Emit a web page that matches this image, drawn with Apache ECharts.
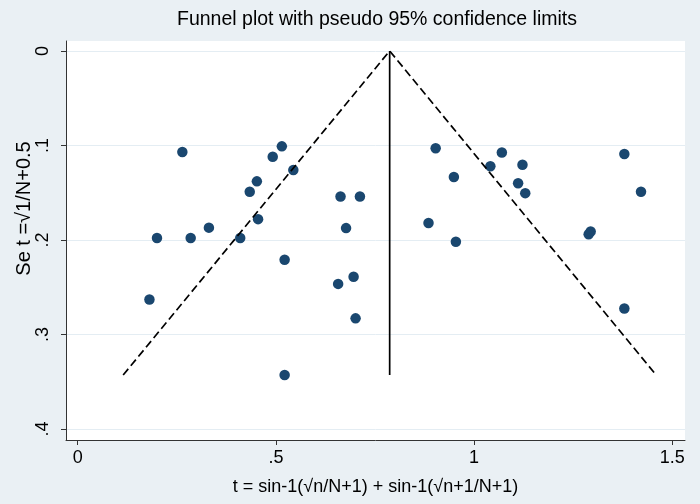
<!DOCTYPE html>
<html>
<head>
<meta charset="utf-8">
<script src="https://cdn.jsdelivr.net/npm/echarts@6/dist/echarts.min.js"></script>
<style>
html,body{margin:0;padding:0;background:#EAF0F4;}
#chart{width:700px;height:504px;}
</style>
</head>
<body>
<div id="chart"></div>
<script>
// Study effect sizes (t) and their standard errors (Se t)
const effectT = [0.264, 0.515, 0.492, 0.544, 0.452, 0.434, 0.455, 0.331, 0.200, 0.285, 0.410, 0.181, 0.522, 0.522,
                 0.663, 0.712, 0.677, 0.696, 0.657, 0.701,
                 0.903, 1.070, 1.041, 1.122, 0.949, 1.111, 1.129, 1.379, 1.421, 0.885, 0.954, 1.289, 1.294, 1.379];
const seT = [0.107, 0.101, 0.112, 0.126, 0.138, 0.149, 0.178, 0.187, 0.198, 0.198, 0.198, 0.263, 0.221, 0.343,
             0.154, 0.154, 0.1875, 0.239, 0.2465, 0.283,
             0.103, 0.1075, 0.122, 0.1205, 0.1335, 0.140, 0.1505, 0.109, 0.149, 0.182, 0.202, 0.194, 0.191, 0.2725];
const pooledEstimate = 0.787;
const maxSe = 0.343;
const zValue = 1.96;
const xTicks = [0, 0.5, 1, 1.5];
const yTicks = [0, 0.1, 0.2, 0.3, 0.4];

const points = effectT.map((t, i) => [t, seT[i]]);
const funnel = [
  [pooledEstimate - zValue * maxSe, maxSe],
  [pooledEstimate, 0],
  [pooledEstimate + zValue * maxSe, maxSe]
];
const centerLine = [[pooledEstimate, 0], [pooledEstimate, maxSe]];

function fmt(v) {
  if (v === 0) return '0';
  return String(+v.toFixed(2)).replace(/^0\./, '.');
}

const font = 'Liberation Sans, Arial, sans-serif';
const chart = echarts.init(document.getElementById('chart'), null, {renderer: 'canvas'});
chart.setOption({
  backgroundColor: '#EAF0F4',
  animation: false,
  title: {
    text: 'Funnel plot with pseudo 95% confidence limits',
    left: 372, top: 5, textAlign: 'center',
    textStyle: {fontFamily: font, fontSize: 19.5, fontWeight: 'normal', color: '#000'}
  },
  grid: {
    left: 66, right: 15, top: 41, bottom: 64,
    show: true, backgroundColor: '#FFFFFF', borderWidth: 0
  },
  xAxis: {
    type: 'value', min: -0.0295, max: 1.532,
    name: 't = sin-1(√n/N+1) + sin-1(√n+1/N+1)',
    nameLocation: 'middle', nameGap: 38, nameMoveOverlap: false,
    nameTextStyle: {fontFamily: font, fontSize: 18, color: '#000'},
    axisLine: {show: true, onZero: false, lineStyle: {color: '#333', width: 1}},
    axisTick: {show: true, customValues: xTicks, length: 5, lineStyle: {color: '#333'}},
    axisLabel: {customValues: xTicks, formatter: fmt, margin: 9, fontFamily: font, fontSize: 18, color: '#000'},
    splitLine: {show: false}
  },
  yAxis: {
    type: 'value', inverse: true, min: -0.0105, max: 0.4117,
    name: 'Se t =√1/N+0.5',
    nameLocation: 'middle', nameGap: 32, nameMoveOverlap: false,
    nameTextStyle: {fontFamily: font, fontSize: 20, color: '#000', padding: [0, 0, 0, 64]},
    axisLine: {show: true, onZero: false, lineStyle: {color: '#333', width: 1}},
    axisTick: {show: true, customValues: yTicks, length: 5, lineStyle: {color: '#333'}},
    axisLabel: {customValues: yTicks, formatter: fmt, rotate: 90, margin: 14, fontFamily: font, fontSize: 18, color: '#000'},
    splitLine: {show: true, lineStyle: {color: '#E4EDF3', width: 1}}
  },
  series: [
    {
      type: 'scatter', data: points, symbol: 'circle', symbolSize: 10.5,
      itemStyle: {color: '#1A476F', opacity: 1}, z: 2
    },
    {
      type: 'line', data: funnel, symbol: 'none', z: 3,
      lineStyle: {color: '#000', width: 1.7, type: [8, 4]}
    },
    {
      type: 'line', data: centerLine, symbol: 'none', z: 3,
      lineStyle: {color: '#000', width: 1.7}
    }
  ]
});
</script>
</body>
</html>
